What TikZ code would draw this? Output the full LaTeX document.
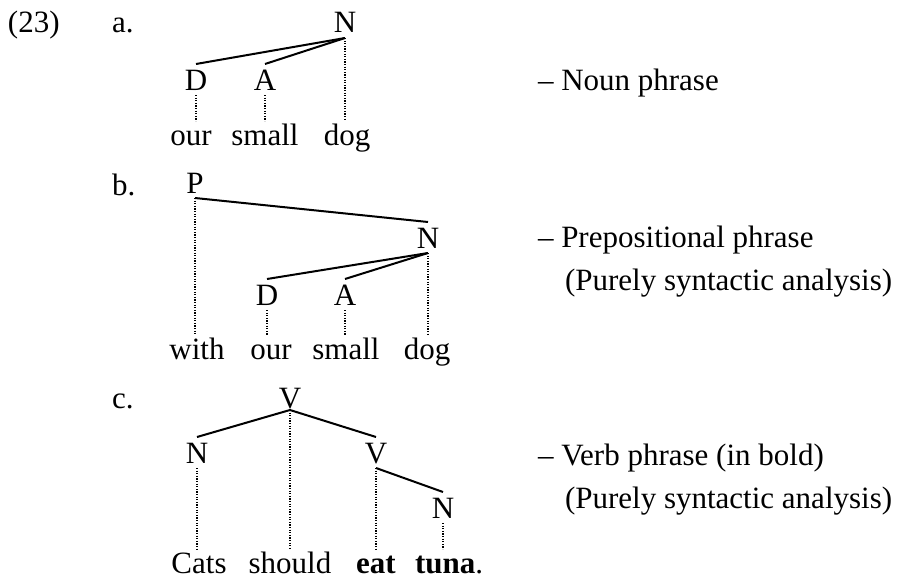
\documentclass[tikz,border=0pt]{standalone}
\usepackage{fontspec}
\setmainfont{Liberation Serif}
\begin{document}
\begin{tikzpicture}[x=1pt,y=-1pt,
  every node/.style={inner sep=0pt, outer sep=0pt, anchor=base, font=\fontsize{31}{37}\selectfont},
  cat/.style={text height=26pt, text depth=5pt},
  word/.style={text height=24pt, text depth=7pt},
  lbl/.style={anchor=base west},
  branch/.style={line width=2pt},
  dots/.style={line width=1.5pt, dash pattern=on 1.2pt off 1.4pt}]
\useasboundingbox (0,0) rectangle (909,578);

% labels
\node[lbl] (ex) at (8,33) {(23)};
\node[lbl] (la) at (112,33) {a.};
\node[lbl] (lb) at (112,195) {b.};
\node[lbl] (lc) at (112,408) {c.};

% (a)
\node[cat] (aN) at (345,33) {N};
\node[cat] (aD) at (196,90) {D};
\node[cat] (aA) at (265,90) {A};
\node[word] (aour) at (191,145) {our};
\node[word] (asmall) at (265,145) {small};
\node[word] (adog) at (347,145) {dog};
\draw[branch] (aN.south) -- (aD.north);
\draw[branch] (aN.south) -- (aA.north);
\draw[dots] (aN.south) -- (aN.south |- adog.north);
\draw[dots] (aD.south) -- (aD.south |- aour.north);
\draw[dots] (aA.south) -- (aA.south |- asmall.north);
\node[lbl] (ta) at (538,90) {\textendash{} Noun phrase};

% (b)
\node[cat] (bP) at (195,193) {P};
\node[cat] (bN) at (428,248) {N};
\node[cat] (bD) at (267,305) {D};
\node[cat] (bA) at (345,305) {A};
\node[word] (bwith) at (197,359) {with};
\node[word] (bour) at (271,359) {our};
\node[word] (bsmall) at (346,359) {small};
\node[word] (bdog) at (427,359) {dog};
\draw[branch] (bP.south) -- (bN.north);
\draw[branch] (bN.south) -- (bD.north);
\draw[branch] (bN.south) -- (bA.north);
\draw[dots] (bP.south) -- (bP.south |- bwith.north);
\draw[dots] (bD.south) -- (bD.south |- bour.north);
\draw[dots] (bA.south) -- (bA.south |- bsmall.north);
\draw[dots] (bN.south) -- (bN.south |- bdog.north);
\node[lbl] (tb1) at (538,247) {\textendash{} Prepositional phrase};
\node[lbl] (tb2) at (565,290) {(Purely syntactic analysis)};

% (c)
\node[cat,text depth=2pt] (cV) at (290,408) {V};
\node[cat] (cN) at (197,463) {N};
\node[cat] (cV2) at (376,463) {V};
\node[cat] (cN2) at (443,518) {N};
\node[word] (ccats) at (199,573) {Cats};
\node[word] (cshould) at (290,573) {should};
\node[word] (ceat) at (376,573) {\textbf{eat}};
\node[word,anchor=base west] (ctuna) at (415,573) {\textbf{tuna}.};
\draw[branch] (cV.south) -- (cN.north);
\draw[branch] (cV.south) -- (cV2.north);
\draw[branch] (cV2.south) -- (cN2.north);
\draw[dots] (cV.south) -- (cV.south |- cshould.north);
\draw[dots] (cN.south) -- (cN.south |- ccats.north);
\draw[dots] (cV2.south) -- (cV2.south |- ceat.north);
\draw[dots] (cN2.south) -- (cN2.south |- ctuna.north);
\node[lbl] (tc1) at (538,465) {\textendash{} Verb phrase (in bold)};
\node[lbl] (tc2) at (565,508) {(Purely syntactic analysis)};
\end{tikzpicture}
\end{document}
